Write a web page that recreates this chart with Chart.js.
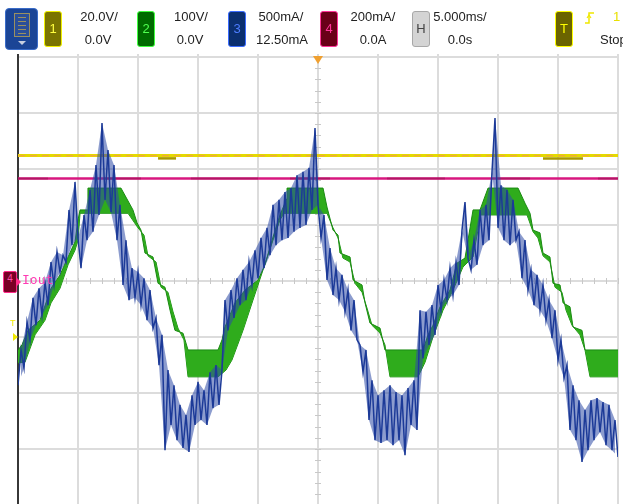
<!DOCTYPE html>
<html lang="en">
<head>
<meta charset="UTF-8" />
<title>Scope capture</title>
<style>
  body { margin: 0; background: #fff; width: 623px; height: 504px; overflow: hidden; position: relative;
         font-family: 'Liberation Sans', Arial, sans-serif; }
  #scope { position: absolute; left: 0; top: 0; }
  .ab { position: absolute; }
  .menu { left: 5px; top: 8px; width: 31px; height: 40px; background: #1b4596; border: 1px solid #3a6cc8; border-radius: 4px; }
  .menu .doc { position: absolute; left: 8px; top: 4px; width: 14px; height: 22px; border: 1px solid #9a9060; background: #2a4f9a;
               background-image: repeating-linear-gradient(#9a9060 0 1px, transparent 1px 4px); background-position: 3px 3px; background-size: 8px 17px; background-repeat: no-repeat; }
  .menu .arr { position: absolute; left: 12px; top: 32px; border-left: 4px solid transparent; border-right: 4px solid transparent; border-top: 4px solid #c8d0e0; }
  .box { position: absolute; top: 11px; width: 16px; height: 34px; border-radius: 3px; border: 1px solid; font-size: 13px;
         line-height: 34px; text-align: center; }
  .lbl { position: absolute; width: 80px; text-align: center; font-size: 13px; line-height: 16px; color: #222; }
  .r1 { top: 9px; }
  .r2 { top: 32px; }
  #iout { left: 22px; top: 272px; font: 13px 'DejaVu Sans Mono', monospace; color: #ff3cb4; }
  #gnd4 { left: 3px; top: 271px; width: 12px; height: 20px; background: #7a0025; border: 1px solid #ff2a8a; border-radius: 2px;
          color: #ff4da6; font-size: 10px; line-height: 14px; text-align: center; }
  #gnd4:after { content: ''; position: absolute; left: 13px; top: 6px; border-top: 4px solid transparent; border-bottom: 4px solid transparent; border-left: 4px solid #ff2a8a; }
  #trigT { left: 10px; top: 318px; font-size: 9px; color: #f0e800; }
  #trigArr { left: 13px; top: 333px; border-top: 4px solid transparent; border-bottom: 4px solid transparent; border-left: 5px solid #f0e800; }
</style>
</head>
<body>

<canvas id="scope" width="623" height="504"></canvas>

<div class="ab menu"><div class="doc"></div><div class="arr"></div></div>

<div class="box" style="left:44px;background:#7a7400;border-color:#f0f000;color:#ffff40">1</div>
<div class="lbl r1" style="left:59px">20.0V/</div>
<div class="lbl r2" style="left:58px">0.0V</div>

<div class="box" style="left:137px;background:#006b00;border-color:#40ff40;color:#50ff50">2</div>
<div class="lbl r1" style="left:151px">100V/</div>
<div class="lbl r2" style="left:150px">0.0V</div>

<div class="box" style="left:228px;background:#0b2f6f;border-color:#3b6cff;color:#4d7dff">3</div>
<div class="lbl r1" style="left:241px">500mA/</div>
<div class="lbl r2" style="left:242px">12.50mA</div>

<div class="box" style="left:320px;background:#6a0018;border-color:#ff3399;color:#ff3399">4</div>
<div class="lbl r1" style="left:333px">200mA/</div>
<div class="lbl r2" style="left:333px">0.0A</div>

<div class="box" style="left:412px;background:#d4d4d4;border-color:#a8a8a8;color:#444">H</div>
<div class="lbl r1" style="left:420px">5.000ms/</div>
<div class="lbl r2" style="left:420px">0.0s</div>

<div class="box" style="left:555px;background:#6b6400;border-color:#ffff00;color:#ffff00">T</div>
<svg class="ab" style="left:583px;top:10px" width="14" height="16">
  <polyline points="2,13 6,13 6,3 11,3" fill="none" stroke="#f0e800" stroke-width="1.5"/>
  <polyline points="4,8 6,5 8,8" fill="none" stroke="#f0e800" stroke-width="1.2"/>
</svg>
<div class="ab" style="left:613px;top:9px;font-size:13px;line-height:16px;color:#e8e000">1</div>
<div class="ab" style="left:600px;top:32px;font-size:13px;line-height:16px;color:#222">Stop</div>

<div class="ab" id="gnd4">4</div>
<div class="ab" id="iout">Iout</div>
<div class="ab" id="trigT">T</div>
<div class="ab" id="trigArr"></div>

<script src="https://cdn.jsdelivr.net/npm/chart.js"></script>
<script>
  // time axis: 5 ms/div, 10 divisions; vertical in screen divisions
  const timeDivs = [-25, -20, -15, -10, -5, 0, 5, 10, 15, 20, 25];
  const levelDivs = [-4, -3, -2, -1, 0, 1, 2, 3, 4];

  // ch3 (inductor current), sampled every 0.25 ms from -25 ms
  const ch3Start = -25;
  const ch3Step = 0.25;
  const ch3Current = [
    -1.86, -1.23, -1.55, -0.73, -1.05, -0.30, -0.79, -0.13, -0.61, -0.02,
    -0.43, 0.34, -0.07, 0.52, 0.16, 0.46, 0.34, 1.27, 0.64, 1.77,
    0.77, 0.23, 1.18, 0.73, 1.63, 0.88, 2.07, 1.18, 2.82, 1.45,
    2.34, 1.23, 2.07, 0.73, 1.36, -0.07, 0.73, -0.34, 0.23, -0.30,
    0.16, -0.43, 0.05, -0.70, -0.16, -0.84, -0.66, -1.50, -0.96, -3.02,
    -1.59, -2.57, -1.86, -2.84, -2.21, -2.98, -2.39, -3.05, -2.04, -2.57,
    -1.80, -2.48, -1.95, -2.57, -1.63, -2.27, -1.50, -2.21, -1.59, -0.34,
    -0.88, -0.16, -0.66, 0.05, -0.43, 0.20, -0.34, 0.34, -0.07, 0.55,
    0.05, 0.77, 0.23, 0.95, 0.46, 1.36, 0.64, 1.45, 0.73, 1.59,
    0.77, 1.66, 0.88, 1.89, 0.95, 1.95, 1.00, 2.02, 1.27, 2.73,
    1.36, 0.77, 1.18, 0.02, 0.59, -0.25, 0.23, -0.34, 0.11, -0.55,
    -0.16, -0.88, -0.34, -1.05, -1.14, -1.63, -1.23, -2.48, -1.77, -2.84,
    -2.04, -2.89, -1.95, -2.84, -1.86, -2.93, -1.98, -2.84, -2.04, -3.11,
    -1.91, -2.57, -1.77, -2.66, -0.52, -1.38, -0.55, -1.14, -0.43, -0.96,
    -0.07, -0.52, 0.02, -0.34, 0.23, -0.25, 0.34, -0.07, 0.91, 1.41,
    0.41, 0.20, 0.73, 0.29, 1.27, 0.64, 1.36, 0.73, 1.95, 2.91,
    0.95, 1.71, 0.73, 1.63, 0.64, 1.45, 0.73, 0.88, 0.05, 0.73,
    -0.16, 0.20, -0.43, 0.11, -0.52, -0.07, -0.70, -0.34, -1.02, -0.52,
    -1.41, -1.05, -1.73, -1.50, -2.66, -1.86, -2.84, -2.13, -3.23, -2.30,
    -3.02, -2.13, -2.84, -2.09, -2.70, -2.16, -2.93, -2.21, -3.02, -2.48,
    -3.14
  ];

  // ch2 (stepped output voltage) drawn as an envelope band: [ms, div]
  const ch2Upper = [
    [-25, -1.23], [-24.67, -1.14], [-24.17, -0.88], [-23.17, -0.70], [-22.25, -0.13], [-21.5, 0.11],
    [-20.83, 0.43], [-20.25, 0.70], [-20, 1.09], [-19.83, 1.27], [-19.17, 1.27], [-19.17, 1.66],
    [-16.42, 1.66], [-15.42, 1.27], [-15.08, 1.04], [-14.75, 0.91], [-14.42, 0.50], [-13.75, 0.43],
    [-13.33, -0.04], [-12.75, -0.11], [-12.33, -0.52], [-11.92, -0.88], [-11.25, -0.93], [-10.83, -1.23],
    [-8.33, -1.23], [-8, -1.05], [-7.75, -0.82], [-6.92, -0.39], [-6.08, -0.16], [-5, 0.02],
    [-4.42, 0.29], [-3.83, 0.73], [-3.17, 1.18], [-2.58, 1.48], [-2.58, 1.66], [0.42, 1.66],
    [0.75, 1.32], [1.25, 0.91], [1.67, 0.82], [1.83, 0.50], [2.67, 0.43], [2.92, 0.02],
    [3.67, -0.07], [3.92, -0.39], [4.33, -0.75], [5.17, -0.84], [5.58, -1.23], [8.75, -1.23],
    [9.17, -0.96], [9.58, -0.79], [10.17, -0.46], [11, -0.16], [11.58, 0.32], [12.25, 0.41],
    [12.92, 1.27], [13.5, 1.27], [14.17, 1.66], [16.67, 1.66], [17.25, 1.39], [17.67, 1.21],
    [17.92, 0.91], [18.5, 0.86], [18.75, 0.50], [19.33, 0.43], [19.58, -0.04], [20.17, -0.07],
    [20.42, -0.39], [21, -0.46], [21.25, -0.82], [22, -0.88], [22.25, -1.23], [25, -1.23]
  ];
  const ch2Lower = [
    [-25, -1.46], [-24.42, -1.45], [-23.58, -0.96], [-22.75, -0.70], [-22.25, -0.39], [-21.5, -0.13],
    [-20.83, 0.29], [-20.25, 0.55], [-20, 0.73], [-19.83, 1.21], [-15.83, 1.21], [-15, 0.95],
    [-14.5, 0.82], [-14.17, 0.45], [-13.5, 0.34], [-13.08, -0.11], [-12.5, -0.20], [-12.08, -0.55],
    [-11.67, -0.84], [-11.17, -1.05], [-10.83, -1.71], [-8.33, -1.71], [-7.67, -1.59], [-7.17, -1.41],
    [-6.25, -0.88], [-5.42, -0.34], [-4.58, 0.20], [-3.75, 0.73], [-3.17, 1.09], [-2.83, 1.21],
    [0.75, 1.21], [1.25, 0.95], [1.67, 0.77], [2.08, 0.41], [2.67, 0.34], [3.08, -0.04],
    [3.67, -0.20], [4.08, -0.48], [4.5, -0.79], [5.17, -0.93], [5.58, -1.14], [6, -1.71],
    [8.33, -1.71], [8.92, -1.45], [9.58, -1.00], [10.42, -0.52], [11.25, -0.16], [12.08, 0.25],
    [12.92, 0.43], [13.33, 0.91], [13.5, 1.18], [17.42, 1.18], [17.92, 0.88], [18.33, 0.77],
    [18.75, 0.45], [19.33, 0.34], [19.75, -0.11], [20.33, -0.20], [20.67, -0.52], [21.17, -0.79],
    [21.83, -0.96], [22.25, -1.23], [22.67, -1.71], [25, -1.71]
  ];

  // ch1 and ch4 are flat traces
  const ch1Level = 2.24;
  const ch1Blips = [[-13.33, -11.83], [18.75, 22.08]];
  const ch4Level = 1.83;
  const ch4Dark = [[-25, -22.5], [-17.75, -14.75], [-10.58, -5], [-2.33, 1], [5.75, 10.58], [14.92, 17.67], [23.33, 25]];

  const pts = arr => arr.map(([x, y]) => ({ x, y }));
  const flat = (a, b, y) => [{ x: a, y }, { x: b, y }];
  const ch3Points = ch3Current.map((v, i) => ({ x: ch3Start + i * ch3Step, y: v }));

  const datasets = [
    { data: ch3Points, borderColor: '#1c3a98', borderWidth: 1.5, order: 0 },
    // persistence haze of ch3: area between alternate samples
    { data: ch3Points.filter((_, i) => i % 2 === 0), borderWidth: 0, borderColor: 'transparent',
      backgroundColor: 'rgba(45, 75, 165, 0.55)', fill: '+1', order: 1 },
    { data: ch3Points.filter((_, i) => i % 2 === 1), borderWidth: 0, borderColor: 'transparent', fill: false, order: 1 },
    { data: pts(ch2Upper), borderColor: '#1a8a12', borderWidth: 1, backgroundColor: '#2fac1c', fill: '+1', order: 2 },
    { data: pts(ch2Lower), borderColor: '#1a8a12', borderWidth: 1, fill: false, order: 2 },
    { data: flat(-25, 25, ch4Level), borderColor: '#d8177f', borderWidth: 2.5, order: 5 },
    { data: flat(-25, 25, ch1Level), borderColor: '#e4da00', borderWidth: 3, order: 5 },
    { data: flat(-25, 25, ch1Level), borderColor: '#f2a93a', borderWidth: 1.4, borderDash: [7, 5], order: 4 }
  ];
  ch4Dark.forEach(([a, b]) => datasets.push({ data: flat(a, b, ch4Level), borderColor: 'rgba(150, 20, 80, 0.55)', borderWidth: 2, order: 4 }));
  ch1Blips.forEach(([a, b]) => datasets.push({ data: flat(a, b, ch1Level - 0.05), borderColor: '#a89a00', borderWidth: 2.5, order: 4 }));

  // graticule drawn from the scales
  const graticule = {
    id: 'graticule',
    beforeDatasetsDraw(chart) {
      const { ctx, chartArea: a, scales: { x, y } } = chart;
      ctx.save();
      ctx.strokeStyle = '#dcdcdc';
      ctx.lineWidth = 2;
      timeDivs.forEach(t => {
        const px = Math.round(x.getPixelForValue(t));
        ctx.beginPath(); ctx.moveTo(px, a.top - 3); ctx.lineTo(px, a.bottom); ctx.stroke();
      });
      levelDivs.forEach(v => {
        const py = Math.round(y.getPixelForValue(v));
        ctx.beginPath(); ctx.moveTo(a.left, py); ctx.lineTo(a.right, py); ctx.stroke();
      });
      // minor ticks on the centre cross
      ctx.lineWidth = 1;
      ctx.strokeStyle = '#c8c8c8';
      const cx = Math.round(x.getPixelForValue(0));
      const cy = Math.round(y.getPixelForValue(0));
      for (let t = -25; t <= 25; t += 1) {
        const px = Math.round(x.getPixelForValue(t)) + 0.5;
        ctx.beginPath(); ctx.moveTo(px, cy - 3); ctx.lineTo(px, cy + 3); ctx.stroke();
      }
      for (let v = -4; v <= 4; v += 0.2) {
        const py = Math.round(y.getPixelForValue(v)) + 0.5;
        ctx.beginPath(); ctx.moveTo(cx - 3, py); ctx.lineTo(cx + 3, py); ctx.stroke();
      }
      // left border
      ctx.strokeStyle = '#000';
      ctx.lineWidth = 1.5;
      ctx.beginPath(); ctx.moveTo(a.left, a.top - 3); ctx.lineTo(a.left, a.bottom); ctx.stroke();
      // trigger position marker
      ctx.fillStyle = '#f0a030';
      ctx.beginPath(); ctx.moveTo(cx - 5, a.top - 1); ctx.lineTo(cx + 5, a.top - 1); ctx.lineTo(cx, a.top + 7); ctx.closePath(); ctx.fill();
      ctx.restore();
    }
  };

  new Chart(document.getElementById('scope'), {
    type: 'line',
    data: { datasets },
    options: {
      responsive: false,
      animation: false,
      devicePixelRatio: 1,
      events: [],
      layout: { padding: { left: 18, right: 5, top: 57, bottom: 0 } },
      elements: { point: { radius: 0 }, line: { tension: 0 } },
      scales: {
        x: { type: 'linear', min: -25, max: 25, display: false },
        y: { type: 'linear', min: -3.98, max: 4, display: false }
      },
      plugins: { legend: { display: false }, tooltip: { enabled: false } }
    },
    plugins: [graticule]
  });
</script>
</body>
</html>
